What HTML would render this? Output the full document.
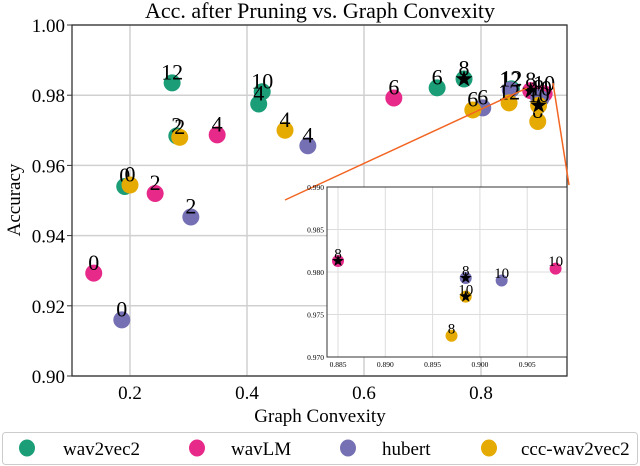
<!DOCTYPE html>
<html><head><meta charset="utf-8"><style>
body{margin:0;background:#fff;}
svg{display:block;font-family:"Liberation Serif","Times New Roman",serif;}
svg text{font-family:"Liberation Serif","Times New Roman",serif;}
</style></head><body>
<svg id="c" width="640" height="466" viewBox="0 0 640 466"></svg>
<script>
const seriesNames=["wav2vec2","wavLM","hubert","ccc-wav2vec2"];
const colors=["#1b9e77","#e7298a","#7570b3","#e6ab02"];
const xTicks=[0.2,0.4,0.6,0.8];
const yTicks=[0.90,0.92,0.94,0.96,0.98,1.00];
const w2vX=[0.191,0.272,0.280,0.426,0.420,0.725,0.771,0.852];
const w2vY=[0.954,0.9835,0.9684,0.981,0.9775,0.9821,0.9846,0.9818];
const w2vL=["0","12","2","10","4","6","8","12"];
const w2vS=[0,0,0,0,0,0,1,0];
const lmX=[0.138,0.243,0.349,0.651,0.885,0.908];
const lmY=[0.9293,0.952,0.9687,0.9792,0.9813,0.9804];
const lmL=["0","2","4","6","8","10"];
const lmS=[0,0,0,0,1,0];
const hbX=[0.186,0.304,0.504,0.803,0.850,0.8985,0.9023];
const hbY=[0.916,0.9453,0.9656,0.9764,0.9815,0.9793,0.979];
const hbL=["0","2","4","6","12","8","10"];
const hbS=[0,0,0,0,0,1,0];
const ccX=[0.200,0.285,0.465,0.786,0.848,0.897,0.8985];
const ccY=[0.9544,0.968,0.970,0.9758,0.9778,0.9725,0.9771];
const ccL=["0","2","4","6","12","8","10"];
const ccS=[0,0,0,0,0,0,1];
const insetXTicks=[0.885,0.890,0.895,0.900,0.905];
const insetYTicks=[0.970,0.975,0.980,0.985,0.990];
const series=[[w2vX,w2vY,w2vL,w2vS],[lmX,lmY,lmL,lmS],[hbX,hbY,hbL,hbS],[ccX,ccY,ccL,ccS]];

const NS="http://www.w3.org/2000/svg";
const svg=document.getElementById('c');
function el(t,a,p){const e=document.createElementNS(NS,t);for(const k in a)e.setAttribute(k,a[k]);(p||svg).appendChild(e);return e;}
function txt(s,a,p){a['font-family']='Liberation Serif, Times New Roman, serif';const e=el('text',a,p);e.textContent=s;return e;}
const L=72,R=567,T=25,B=376;
const X=v=>130+(v-0.2)/0.2*117;
const Y=v=>B-(v-0.9)/0.1*(B-T);
const IL=327,IR=567,IT=187,IB=357;
const IX=v=>338+(v-0.885)/0.005*47.3;
const IY=v=>IB-(v-0.97)/0.02*(IB-IT);
function star(cx,cy,r){let p=[];for(let i=0;i<10;i++){const a=-Math.PI/2+i*Math.PI/5;const rr=i%2?r*0.4:r;p.push((cx+rr*Math.cos(a)).toFixed(1)+","+(cy+rr*Math.sin(a)).toFixed(1));}return p.join(" ");}

const title=txt("Acc. after Pruning vs. Graph Convexity",{x:320,y:18,'text-anchor':'middle','font-size':22});


const main=el('g',{});
xTicks.forEach(v=>{const g=el('line',{x1:X(v),x2:X(v),y1:T,y2:B,stroke:'#d0d0d0','stroke-width':1.5},main);
 const t=txt(v.toFixed(1),{x:X(v),y:399,'text-anchor':'middle','font-size':19},main);});
yTicks.forEach(v=>{const g=el('line',{x1:L,x2:R,y1:Y(v),y2:Y(v),stroke:'#d0d0d0','stroke-width':1.5},main);
 el('line',{x1:L-5,x2:L,y1:Y(v),y2:Y(v),stroke:'#333'},main);
 const t=txt(v.toFixed(2),{x:L-7,y:Y(v)+7,'text-anchor':'end','font-size':19},main);});
el('rect',{x:L,y:T,width:R-L,height:B-T,fill:'none',stroke:'#333','stroke-width':1.3},main);
const xl=txt("Graph Convexity",{x:320,y:422,'text-anchor':'middle','font-size':19});
const yl=txt("Accuracy",{x:0,y:0,'text-anchor':'middle','font-size':19,transform:'translate(20,200) rotate(-90)'});

function drawPoints(xf,yf,r,fs,parent,filter){
 series.forEach((s,si)=>{const [xs,ys,ls,ss]=s;
  xs.forEach((xv,i)=>{ if(filter&&!filter(xv,ys[i]))return;
   const cx=xf(xv),cy=yf(ys[i]);
   const c=el('circle',{cx:cx,cy:cy,r:r,fill:colors[si]},parent);
   
   
   if(ss[i]){const st=el('polygon',{points:star(cx,cy,r*1.05),fill:'#000'},parent);
    
    }
   const t=txt(ls[i],{x:cx,y:cy-r*0.4,'text-anchor':'middle','font-size':fs},parent);
   
   
  });});
}
drawPoints(X,Y,8.5,22,main);

// connector lines
const c1=el('line',{x1:285,y1:200,x2:527,y2:88,stroke:'#f26522','stroke-width':1.5});
const c2=el('line',{x1:553,y1:83,x2:569,y2:185,stroke:'#f26522','stroke-width':1.5});

// inset
const ins=el('g',{});
el('rect',{x:IL,y:IT,width:IR-IL,height:IB-IT,fill:'#fff'},ins);
insetXTicks.forEach(v=>{el('line',{x1:IX(v),x2:IX(v),y1:IT,y2:IB,stroke:'#dcdcdc'},ins);
 const t=txt(v.toFixed(3),{x:IX(v),y:IB+10,'text-anchor':'middle','font-size':7.5},ins);});
insetYTicks.forEach(v=>{el('line',{x1:IL,x2:IR,y1:IY(v),y2:IY(v),stroke:'#dcdcdc'},ins);
 const t=txt(v.toFixed(3),{x:IL-3,y:IY(v)+3,'text-anchor':'end','font-size':7.5},ins);});
drawPoints(IX,IY,6,15,ins,(x,y)=>x>=0.8838&&x<=0.9092&&y>=0.97&&y<=0.99);
el('rect',{x:IL,y:IT,width:IR-IL,height:IB-IT,fill:'none',stroke:'#333'},ins);

// legend
const lg=el('g',{});
el('rect',{x:2.5,y:432.5,width:635,height:32,rx:3,fill:'#fff',stroke:'#ccc'},lg);
const lcx=[27,197,348,489],ltx=[63,231,382,521];
seriesNames.forEach((n,i)=>{const g=el('g',{},lg);
 el('ellipse',{cx:lcx[i],cy:448,rx:8,ry:8.5,fill:colors[i]},g);
 txt(n,{x:ltx[i],y:455,'font-size':19},g);});
</script>
</body></html>
